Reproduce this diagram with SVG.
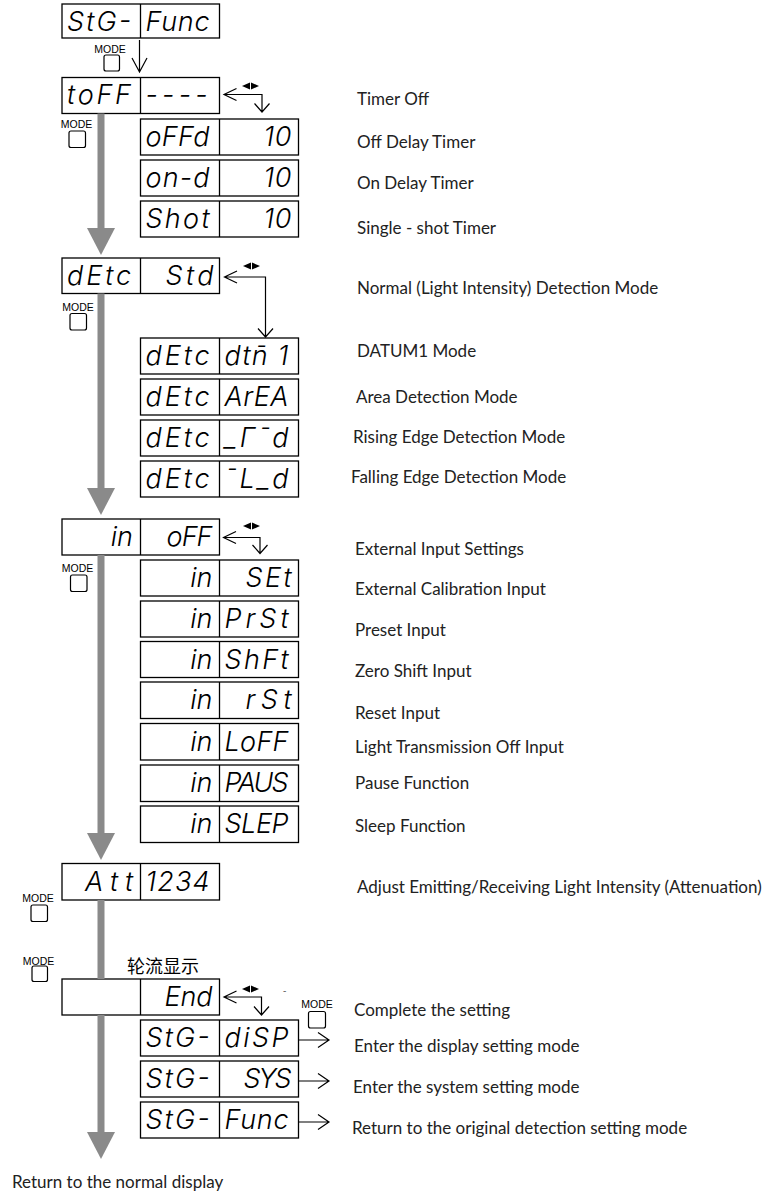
<svg xmlns="http://www.w3.org/2000/svg" width="782" height="1194" viewBox="0 0 782 1194">
<defs>
<style>
.bx{fill:#fff;stroke:#000;stroke-width:1.3}
.dv{stroke:#000;stroke-width:1.3}
.lcd{font-family:Inter,"DejaVu Sans",sans-serif;font-size:27px;font-weight:300;font-style:italic;fill:#000}
.e{text-anchor:end}
.lbl{font-family:Lato,"Noto Sans",sans-serif;font-size:17px;fill:#222}
.mode{font-family:"Liberation Sans",Arial,sans-serif;font-size:10.5px;fill:#000;text-anchor:middle}
.key{fill:#fff;stroke:#000;stroke-width:1.2}
.sh{fill:#8a8a8a}
.ln{fill:none;stroke:#000;stroke-width:1.2}
.tri{fill:#000}
</style>
</defs>
<rect width="782" height="1194" fill="#fff"/>

<g id="n-stg-func-top"><rect class="bx" x="62" y="4" width="157.5" height="34"/><line class="dv" x1="140.5" y1="4" x2="140.5" y2="38"/><text class="lcd" x="67" y="31" textLength="64">StG-</text><text class="lcd" x="145.5" y="31" textLength="64">Func</text></g>
<g id="n-toff"><rect class="bx" x="62" y="77.5" width="157.5" height="36"/><line class="dv" x1="140.5" y1="77.5" x2="140.5" y2="113.5"/><text class="lcd" x="67" y="104" textLength="64">toFF</text><text class="lcd" x="145.5" y="104" textLength="62">----</text></g>
<g id="n-offd"><rect class="bx" x="140.5" y="119" width="158" height="36"/><line class="dv" x1="219.5" y1="119" x2="219.5" y2="155"/><text class="lcd" x="145.5" y="146" textLength="64">oFFd</text><text class="lcd e" x="291.5" y="146" textLength="28">10</text></g>
<g id="n-ond"><rect class="bx" x="140.5" y="160" width="158" height="36"/><line class="dv" x1="219.5" y1="160" x2="219.5" y2="196"/><text class="lcd" x="145.5" y="187" textLength="64">on-d</text><text class="lcd e" x="291.5" y="187" textLength="28">10</text></g>
<g id="n-shot"><rect class="bx" x="140.5" y="201" width="158" height="36"/><line class="dv" x1="219.5" y1="201" x2="219.5" y2="237"/><text class="lcd" x="145.5" y="228" textLength="64">Shot</text><text class="lcd e" x="291.5" y="228" textLength="28">10</text></g>

<g id="n-detc-std"><rect class="bx" x="62" y="258" width="157.5" height="35.5"/><line class="dv" x1="140.5" y1="258" x2="140.5" y2="293.5"/><text class="lcd" x="67" y="284.5" textLength="64">dEtc</text><text class="lcd e" x="213.5" y="284.5" textLength="48">Std</text></g>
<g id="n-detc-dtm1"><rect class="bx" x="140.5" y="338" width="158" height="36"/><line class="dv" x1="219.5" y1="338" x2="219.5" y2="374"/><text class="lcd" x="145.5" y="365" textLength="64">dEtc</text><text class="lcd" x="224.5" y="365" textLength="64">dtn̄ 1</text></g>
<g id="n-detc-area"><rect class="bx" x="140.5" y="379" width="158" height="36"/><line class="dv" x1="219.5" y1="379" x2="219.5" y2="415"/><text class="lcd" x="145.5" y="406" textLength="64">dEtc</text><text class="lcd" x="224.5" y="406" textLength="64">ArEA</text></g>
<g id="n-detc-rise"><rect class="bx" x="140.5" y="420" width="158" height="36"/><line class="dv" x1="219.5" y1="420" x2="219.5" y2="456"/><text class="lcd" x="145.5" y="447" textLength="64">dEtc</text><text class="lcd" x="224.5" y="447" textLength="64">_Γ¯d</text></g>
<g id="n-detc-fall"><rect class="bx" x="140.5" y="461" width="158" height="36"/><line class="dv" x1="219.5" y1="461" x2="219.5" y2="497"/><text class="lcd" x="145.5" y="488" textLength="64">dEtc</text><text class="lcd" x="224.5" y="488" textLength="64">¯L_d</text></g>

<g id="n-in-off"><rect class="bx" x="62" y="519" width="157.5" height="36"/><line class="dv" x1="140.5" y1="519" x2="140.5" y2="555"/><text class="lcd e" x="133" y="546">in</text><text class="lcd e" x="212.5" y="546" textLength="46">oFF</text></g>
<g id="n-in-set"><rect class="bx" x="140.5" y="560" width="158" height="36"/><line class="dv" x1="219.5" y1="560" x2="219.5" y2="596"/><text class="lcd e" x="212.5" y="587">in</text><text class="lcd e" x="291.5" y="587" textLength="46">SEt</text></g>
<g id="n-in-prst"><rect class="bx" x="140.5" y="601" width="158" height="36"/><line class="dv" x1="219.5" y1="601" x2="219.5" y2="637"/><text class="lcd e" x="212.5" y="628">in</text><text class="lcd" x="224.5" y="628" textLength="64">PrSt</text></g>
<g id="n-in-shft"><rect class="bx" x="140.5" y="641.5" width="158" height="36"/><line class="dv" x1="219.5" y1="641.5" x2="219.5" y2="677.5"/><text class="lcd e" x="212.5" y="668.5">in</text><text class="lcd" x="224.5" y="668.5" textLength="64">ShFt</text></g>
<g id="n-in-rst"><rect class="bx" x="140.5" y="682" width="158" height="36.5"/><line class="dv" x1="219.5" y1="682" x2="219.5" y2="718.5"/><text class="lcd e" x="212.5" y="709">in</text><text class="lcd e" x="291.5" y="709" textLength="46">rSt</text></g>
<g id="n-in-loff"><rect class="bx" x="140.5" y="723.5" width="158" height="36.5"/><line class="dv" x1="219.5" y1="723.5" x2="219.5" y2="760"/><text class="lcd e" x="212.5" y="750.5">in</text><text class="lcd" x="224.5" y="750.5" textLength="64">LoFF</text></g>
<g id="n-in-paus"><rect class="bx" x="140.5" y="765" width="158" height="36.5"/><line class="dv" x1="219.5" y1="765" x2="219.5" y2="801.5"/><text class="lcd e" x="212.5" y="792">in</text><text class="lcd" x="224.5" y="792" textLength="64">PAUS</text></g>
<g id="n-in-slep"><rect class="bx" x="140.5" y="806" width="158" height="36.5"/><line class="dv" x1="219.5" y1="806" x2="219.5" y2="842.5"/><text class="lcd e" x="212.5" y="833">in</text><text class="lcd" x="224.5" y="833" textLength="64">SLEP</text></g>

<g id="n-att"><rect class="bx" x="62" y="863.5" width="157.5" height="36.5"/><line class="dv" x1="140.5" y1="863.5" x2="140.5" y2="900"/><text class="lcd e" x="133" y="890.5" textLength="48">Att</text><text class="lcd" x="145.5" y="890.5" textLength="64">1234</text></g>
<g id="n-end"><text x="127" y="973" style="font-family:'Noto Sans CJK SC','Noto Sans',sans-serif;font-size:18px;fill:#000">轮流显示</text><rect class="bx" x="62" y="979" width="157.5" height="36"/><line class="dv" x1="140.5" y1="979" x2="140.5" y2="1015"/><text class="lcd e" x="212.5" y="1006" textLength="48">End</text></g>
<g id="n-stg-disp"><rect class="bx" x="140.5" y="1020" width="158" height="36"/><line class="dv" x1="219.5" y1="1020" x2="219.5" y2="1056"/><text class="lcd" x="145.5" y="1047" textLength="64">StG-</text><text class="lcd" x="224.5" y="1047" textLength="64">diSP</text></g>
<g id="n-stg-sys"><rect class="bx" x="140.5" y="1061" width="158" height="36"/><line class="dv" x1="219.5" y1="1061" x2="219.5" y2="1097"/><text class="lcd" x="145.5" y="1088" textLength="64">StG-</text><text class="lcd e" x="291.5" y="1088" textLength="48">SYS</text></g>
<g id="n-stg-func"><rect class="bx" x="140.5" y="1102" width="158" height="36"/><line class="dv" x1="219.5" y1="1102" x2="219.5" y2="1138"/><text class="lcd" x="145.5" y="1129" textLength="64">StG-</text><text class="lcd" x="224.5" y="1129" textLength="64">Func</text></g>

<g id="k1"><text class="mode" x="110" y="53">MODE</text><rect class="key" x="104" y="55" width="15.5" height="16" rx="2"/></g>
<g id="k2"><text class="mode" x="76.5" y="128">MODE</text><rect class="key" x="69" y="131" width="16.5" height="16.5" rx="2"/></g>
<g id="k3"><text class="mode" x="78" y="311">MODE</text><rect class="key" x="70" y="313.5" width="16.5" height="16.5" rx="2"/></g>
<g id="k4"><text class="mode" x="77.5" y="571.5">MODE</text><rect class="key" x="70.5" y="575" width="16.5" height="16.5" rx="2"/></g>
<g id="k5"><text class="mode" x="38" y="902">MODE</text><rect class="key" x="31" y="905" width="16.5" height="16.5" rx="2"/></g>
<g id="k6"><text class="mode" x="38.5" y="964.5">MODE</text><rect class="key" x="32" y="966" width="15.5" height="15.5" rx="2"/></g>
<g id="k7"><text class="mode" x="317" y="1008">MODE</text><rect class="key" x="308.5" y="1011.5" width="17" height="16.5" rx="2"/></g>

<g id="connectors">
<rect class="sh" x="97.5" y="113.5" width="7" height="116"/><polygon class="sh" points="87,228 115,228 101,255"/>
<rect class="sh" x="97.5" y="293.5" width="7" height="196"/><polygon class="sh" points="87,488 115,488 101,515"/>
<rect class="sh" x="97.5" y="555" width="7" height="279"/><polygon class="sh" points="87,833 115,833 101,860"/>
<rect class="sh" x="97.5" y="900" width="7" height="79"/>
<rect class="sh" x="97.5" y="1015" width="7" height="118"/><polygon class="sh" points="87,1132 115,1132 101,1159"/>

<path class="ln" d="M139.5,40 V72 M132,58 L139.5,72 L147,58"/>

<path class="ln" d="M224,94.5 H262 V112 M236.5,88.5 L224,94.5 L236.5,100.5 M254.5,103.5 L262,112 L269.5,103.5"/>
<polygon class="tri" points="242,86 250,82.5 250,89.5"/><polygon class="tri" points="251,82.5 251,89.5 259,86"/>

<path class="ln" d="M224.5,277 H265.5 V337 M237,271 L224.5,277 L237,283 M258,328.5 L265.5,337 L273,328.5"/>
<polygon class="tri" points="243,266 251,262.5 251,269.5"/><polygon class="tri" points="252,262.5 252,269.5 260,266"/>

<path class="ln" d="M223.5,537.5 H260 V553.5 M236,531.5 L223.5,537.5 L236,543.5 M252.5,545 L260,553.5 L267.5,545"/>
<polygon class="tri" points="243,526 251,522.5 251,529.5"/><polygon class="tri" points="252,522.5 252,529.5 260,526"/>

<path class="ln" d="M224,997 H261.5 V1015 M236.5,991 L224,997 L236.5,1003 M254,1006.5 L261.5,1015 L269,1006.5"/>
<polygon class="tri" points="242,989 250,985.5 250,992.5"/><polygon class="tri" points="251,985.5 251,992.5 259,989"/>
<text x="283" y="994" style="font-family:'Liberation Sans',sans-serif;font-size:10px;fill:#666">-</text>

<path class="ln" d="M298.5,1040 H329 M318,1032.5 L329,1040 L318,1047.5"/>
<path class="ln" d="M298.5,1081 H329 M318,1073.5 L329,1081 L318,1088.5"/>
<path class="ln" d="M298.5,1122 H329 M318,1114.5 L329,1122 L318,1129.5"/>
</g>

<g id="labels">
<text class="lbl" x="357" y="105">Timer Off</text>
<text class="lbl" x="357" y="148">Off Delay Timer</text>
<text class="lbl" x="357" y="189">On Delay Timer</text>
<text class="lbl" x="357" y="234">Single - shot Timer</text>
<text class="lbl" x="357" y="294">Normal (Light Intensity) Detection Mode</text>
<text class="lbl" x="357" y="357">DATUM1 Mode</text>
<text class="lbl" x="356" y="403">Area Detection Mode</text>
<text class="lbl" x="353" y="443">Rising Edge Detection Mode</text>
<text class="lbl" x="351" y="483">Falling Edge Detection Mode</text>
<text class="lbl" x="355" y="555">External Input Settings</text>
<text class="lbl" x="355" y="595">External Calibration Input</text>
<text class="lbl" x="355" y="636">Preset Input</text>
<text class="lbl" x="355" y="677">Zero Shift Input</text>
<text class="lbl" x="355" y="719">Reset Input</text>
<text class="lbl" x="355" y="753">Light Transmission Off Input</text>
<text class="lbl" x="355" y="789">Pause Function</text>
<text class="lbl" x="355" y="832">Sleep Function</text>
<text class="lbl" x="357" y="893">Adjust Emitting/Receiving Light Intensity (Attenuation)</text>
<text class="lbl" x="354" y="1016">Complete the setting</text>
<text class="lbl" x="354" y="1052">Enter the display setting mode</text>
<text class="lbl" x="353" y="1093">Enter the system setting mode</text>
<text class="lbl" x="352" y="1134">Return to the original detection setting mode</text>
<text class="lbl" x="12" y="1188">Return to the normal display</text>
</g>
</svg>
